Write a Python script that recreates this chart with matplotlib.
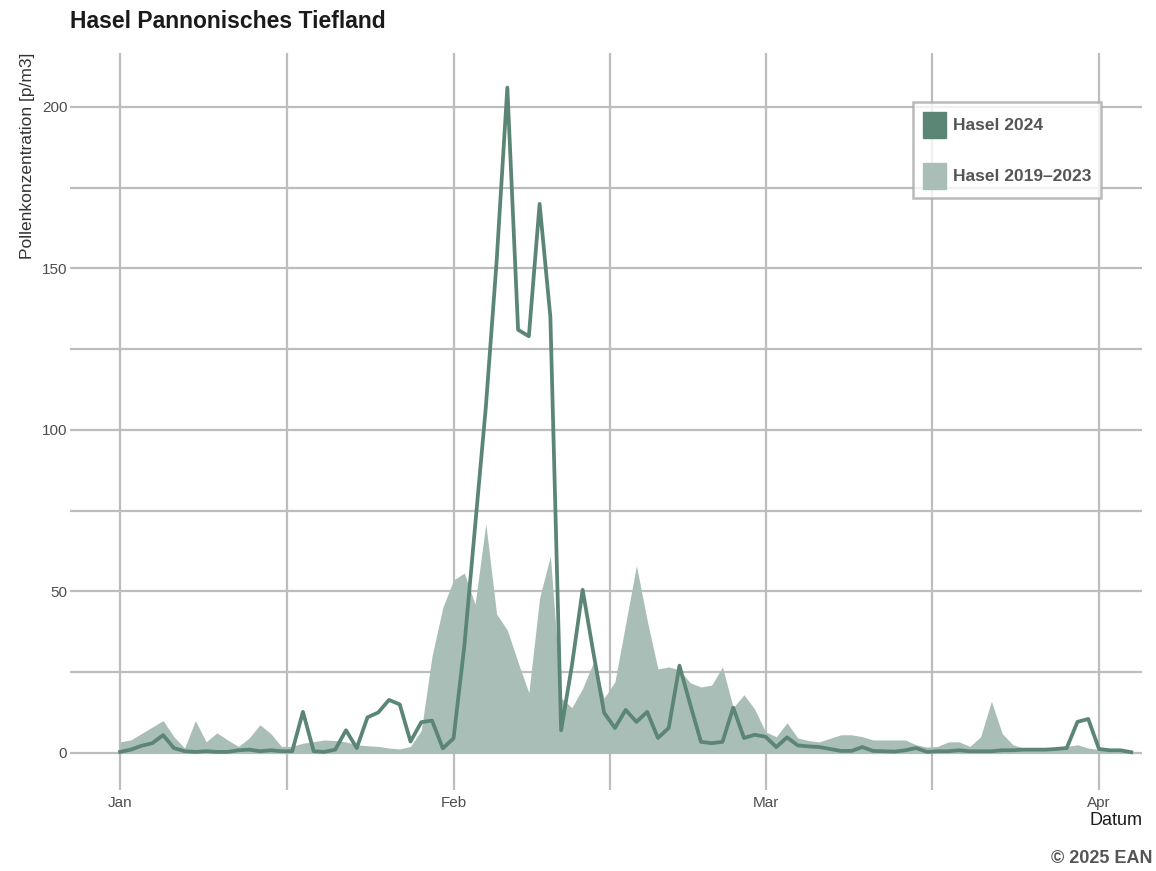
import numpy as np
import matplotlib
matplotlib.use("Agg")
import matplotlib.pyplot as plt
from matplotlib.patches import Patch

plt.rcParams["font.family"] = ["Liberation Sans", "DejaVu Sans"]

# day index since Jan 1 2024 (leap year)
month_ticks = [0, 31, 60, 91]
month_labels = ["Jan", "Feb", "Mar", "Apr"]
minor_ticks = [15.5, 45.5, 75.5]

# Hasel 2024 (daily values, p/m3)
hasel_2024 = [
    0.3, 1.0, 2.2, 3.0, 5.5, 1.5, 0.5, 0.3, 0.5, 0.3,
    0.3, 0.8, 1.0, 0.5, 0.8, 0.5, 0.5, 12.7, 0.5, 0.3,
    1.0, 7.0, 1.5, 11.0, 12.5, 16.4, 15.0, 3.5, 9.5, 10.0,
    1.4, 4.5, 33, 70, 107, 152, 206, 131, 129, 170,
    135, 7, 27, 50.5, 31, 12.4, 7.7, 13.3, 9.6, 12.7,
    4.6, 7.7, 27, 15, 3.4, 3.0, 3.4, 14, 4.6, 5.6,
    5.0, 1.8, 4.8, 2.3, 2.0, 1.8, 1.2, 0.6, 0.6, 1.8,
    0.6, 0.5, 0.4, 0.8, 1.5, 0.3, 0.5, 0.5, 0.8, 0.5,
    0.5, 0.5, 0.8, 0.8, 1.0, 1.0, 1.0, 1.2, 1.5, 9.6,
    10.5, 1.2, 0.8, 0.8, 0.2,
]

# Hasel 2019-2023 mean
hasel_ref = [
    3.4, 4.0, 6.0, 8.0, 10.0, 5.0, 1.5, 10.0, 3.4, 6.2,
    4.0, 2.0, 4.6, 8.7, 6.0, 2.0, 2.0, 3.0, 3.5, 4.0,
    3.8, 3.4, 2.5, 2.2, 2.0, 1.5, 1.2, 2.0, 7.0, 30,
    45, 53.5, 55.7, 46, 71, 43, 38, 28, 18.6, 48,
    61, 17, 14, 20, 28, 17, 22, 40, 58, 41,
    26, 26.6, 25.7, 21.7, 20.4, 21, 26.6, 14, 18, 13.5,
    6.5, 5.0, 9.3, 4.6, 3.8, 3.4, 4.5, 5.6, 5.6, 5.0,
    4.0, 4.0, 4.0, 4.0, 2.5, 1.8, 2.0, 3.4, 3.4, 2.0,
    5.0, 16, 6.0, 2.5, 1.5, 1.5, 1.5, 1.5, 2.0, 2.5,
    1.5, 1.0, 0.6, 0.5, 0.4,
]

days = np.arange(len(hasel_2024))

col_line = "#5b8575"
col_fill = "#a9beb6"
grid_col = "#bdbdbd"

fig = plt.figure(figsize=(11.56, 8.71), dpi=100)
ax = fig.add_axes([0.0606, 0.093, 0.9273, 0.8461])

ax.fill_between(days, 0, hasel_ref, color=col_fill, linewidth=0, zorder=2)
ax.plot(days, hasel_2024, color=col_line, linewidth=2.7, solid_joinstyle="round", zorder=3)

ax.set_xlim(-4.65, 95.0)
ax.set_ylim(-11.5, 216.7)

ax.set_xticks(month_ticks)
ax.set_xticklabels(month_labels)
ax.set_xticks(minor_ticks, minor=True)
ax.set_yticks([0, 50, 100, 150, 200])
ax.set_yticks([25, 75, 125, 175], minor=True)

ax.grid(True, which="both", color=grid_col, linewidth=1.6, zorder=0)
ax.set_axisbelow(True)
for s in ax.spines.values():
    s.set_visible(False)
ax.tick_params(which="both", length=0)
ax.tick_params(axis="x", pad=4, labelsize=11, labelcolor="#4d4d4d")
ax.tick_params(axis="y", pad=2, labelsize=11, labelcolor="#4d4d4d")

ax.set_ylabel("Pollenkonzentration [p/m3]", loc="top", fontsize=12.5, color="#333333")
ax.yaxis.set_label_coords(-0.033, 1.0)
ax.set_xlabel("Datum", loc="right", fontsize=13, color="#1a1a1a", labelpad=2)

fig.text(0.0606, 0.975, "Hasel Pannonisches Tiefland", fontsize=16.5, fontweight="bold",
         color="#1a1a1a", ha="left", va="center")
fig.text(0.997, 0.005, "\u00a9 2025 EAN", fontsize=13, fontweight="bold",
         color="#555555", ha="right", va="bottom")

handles = [Patch(facecolor=col_line, edgecolor=col_line, label="Hasel 2024"),
           Patch(facecolor=col_fill, edgecolor=col_fill, label="Hasel 2019\u20132023")]
leg = ax.legend(handles=handles, loc="upper right", bbox_to_anchor=(0.962, 0.933),
                frameon=True, fancybox=False, handlelength=1.3, handleheight=1.9,
                labelspacing=1.45, borderpad=0.55, handletextpad=0.45, borderaxespad=0,
                prop={"size": 12.5, "weight": "bold"})
leg.get_frame().set_edgecolor("#aaaaaa")
leg.get_frame().set_linewidth(1.8)
for t in leg.get_texts():
    t.set_color("#555555")

fig.savefig("out.png", dpi=100)
